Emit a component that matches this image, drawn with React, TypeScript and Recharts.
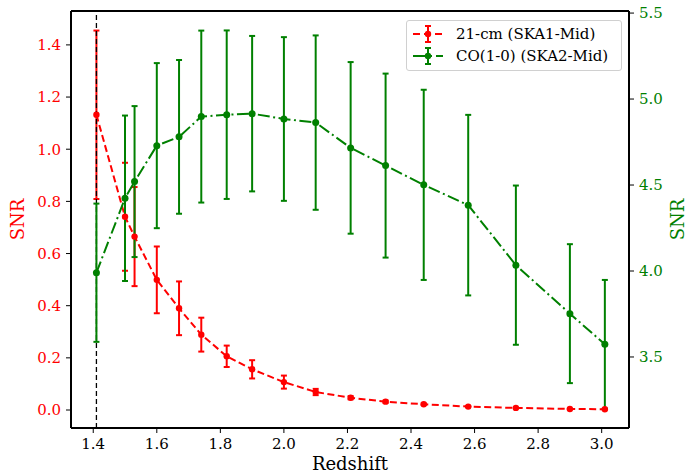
import {
  ComposedChart,
  Line,
  XAxis,
  YAxis,
  ErrorBar,
  ReferenceLine,
} from "recharts"

// ─── Data ────────────────────────────────────────────────────────────────────
const redshift = [1.41, 1.5, 1.53, 1.6, 1.67, 1.74, 1.82, 1.9, 2.0, 2.1, 2.21, 2.32, 2.44, 2.58, 2.73, 2.9, 3.01]
const hiSnr = [1.132, 0.741, 0.665, 0.499, 0.39, 0.289, 0.206, 0.156, 0.107, 0.069, 0.047, 0.032, 0.022, 0.013, 0.008, 0.004, 0.003]
const hiErr = [0.323, 0.207, 0.19, 0.128, 0.103, 0.065, 0.041, 0.035, 0.025, 0.012, 0.006, 0.004, 0.003, 0.002, 0.001, 0.001, 0.001]
const coSnr = [3.99, 4.423, 4.52, 4.729, 4.78, 4.898, 4.909, 4.915, 4.884, 4.863, 4.716, 4.613, 4.501, 4.383, 4.034, 3.752, 3.574]
const coErr = [0.402, 0.481, 0.439, 0.48, 0.447, 0.5, 0.49, 0.452, 0.476, 0.507, 0.499, 0.535, 0.553, 0.525, 0.463, 0.404, 0.374]

const xTicks = [1.4, 1.6, 1.8, 2.0, 2.2, 2.4, 2.6, 2.8, 3.0]
const leftTicks = [0, 0.2, 0.4, 0.6, 0.8, 1.0, 1.2, 1.4]
const rightTicks = [3.5, 4.0, 4.5, 5.0, 5.5]
const markerZ = 1.41

const data = redshift.map((z, i) => ({
  z,
  hi: hiSnr[i],
  hiErr: hiErr[i],
  co: coSnr[i],
  coErr: coErr[i],
}))

const X_DOMAIN = [1.33, 3.086]
const LEFT_DOMAIN = [-0.069, 1.53]
const RIGHT_DOMAIN = [3.087, 5.512]

const FONT = "DejaVu Serif"
const RED = "#ff0000"
const GREEN = "#008000"

// ─── Legend ──────────────────────────────────────────────────────────────────
function Handle({ color, dash }: { color: string; dash: string }) {
  return (
    <svg width={32} height={18} style={{ display: "block" }}>
      <line x1={1} y1={9} x2={31} y2={9} stroke={color} strokeWidth={2} strokeDasharray={dash} />
      <line x1={16} y1={1} x2={16} y2={17} stroke={color} strokeWidth={2} />
      <line x1={13} y1={1} x2={19} y2={1} stroke={color} strokeWidth={2} />
      <line x1={13} y1={17} x2={19} y2={17} stroke={color} strokeWidth={2} />
      <circle cx={16} cy={9} r={3.2} fill={color} />
    </svg>
  )
}

function ChartLegend() {
  const row = { display: "flex", alignItems: "center", gap: 12, height: 22 }
  return (
    <div
      style={{
        position: "absolute",
        left: 406,
        top: 20,
        boxSizing: "border-box",
        width: 216,
        height: 51,
        border: "1px solid #d0d0d0",
        borderRadius: 3,
        background: "rgba(255,255,255,0.9)",
        padding: "2px 5px",
        fontFamily: FONT,
        fontSize: 15,
        color: "#000",
        whiteSpace: "nowrap",
      }}
    >
      <div style={row}>
        <Handle color={RED} dash="7 4" />
        <span>21-cm (SKA1-Mid)</span>
      </div>
      <div style={row}>
        <Handle color={GREEN} dash="12 4 3 4" />
        <span>CO(1-0) (SKA2-Mid)</span>
      </div>
    </div>
  )
}

// ─── Main ────────────────────────────────────────────────────────────────────
export default function App() {
  return (
    <div style={{ position: "absolute", left: 0, top: 0, width: 687, height: 475, background: "#fff" }}>
      <ComposedChart
        width={687}
        height={475}
        data={data}
        margin={{ top: 11, right: 0, left: 0, bottom: 0 }}
        style={{ fontFamily: FONT }}
      >
        <XAxis
          dataKey="z"
          type="number"
          domain={X_DOMAIN}
          ticks={xTicks}
          allowDataOverflow
          tickFormatter={(v: number) => v.toFixed(1)}
          height={47}
          axisLine={{ stroke: "#000", strokeWidth: 2 }}
          tickLine={{ stroke: "#000" }}
          tickSize={5}
          tickMargin={5}
          tick={{ fill: "#000", fontSize: 15, fontFamily: FONT }}
          label={{ value: "Redshift", position: "insideBottom", offset: 5, fill: "#000", fontSize: 18, fontFamily: FONT }}
        />
        <YAxis
          yAxisId="left"
          domain={LEFT_DOMAIN}
          ticks={leftTicks}
          allowDataOverflow
          tickFormatter={(v: number) => v.toFixed(1)}
          width={71}
          axisLine={{ stroke: "#000", strokeWidth: 2 }}
          tickLine={{ stroke: "#000" }}
          tickSize={5}
          tickMargin={5}
          tick={{ fill: RED, fontSize: 15, fontFamily: FONT }}
          label={{
            value: "SNR",
            angle: -90,
            position: "insideLeft",
            offset: 18,
            fill: RED,
            fontSize: 18,
            fontFamily: FONT,
            style: { textAnchor: "middle" },
          }}
        />
        <YAxis
          yAxisId="right"
          orientation="right"
          domain={RIGHT_DOMAIN}
          ticks={rightTicks}
          allowDataOverflow
          tickFormatter={(v: number) => v.toFixed(1)}
          width={58}
          axisLine={{ stroke: "#000", strokeWidth: 2 }}
          tickLine={{ stroke: "#000" }}
          tickSize={5}
          tickMargin={5}
          tick={{ fill: GREEN, fontSize: 15, fontFamily: FONT }}
          label={{
            value: "SNR",
            angle: -90,
            position: "insideRight",
            offset: 9,
            fill: GREEN,
            fontSize: 18,
            fontFamily: FONT,
            style: { textAnchor: "middle" },
          }}
        />

        {/* top spine */}
        <ReferenceLine yAxisId="left" y={LEFT_DOMAIN[1]} stroke="#000" strokeWidth={2} ifOverflow="visible" />

        <Line
          yAxisId="left"
          type="linear"
          dataKey="hi"
          stroke={RED}
          strokeWidth={2}
          strokeDasharray="7 3.5"
          dot={{ r: 3.2, fill: RED, stroke: RED, strokeWidth: 0 }}
          isAnimationActive={false}
        >
          <ErrorBar dataKey="hiErr" direction="y" width={3} stroke={RED} strokeWidth={2} />
        </Line>

        <ReferenceLine yAxisId="left" x={markerZ} stroke="#000" strokeWidth={1.3} strokeDasharray="5 3" />

        <Line
          yAxisId="right"
          type="linear"
          dataKey="co"
          stroke={GREEN}
          strokeWidth={2}
          strokeDasharray="12 3.5 2 3.5"
          dot={{ r: 3.5, fill: GREEN, stroke: GREEN, strokeWidth: 0 }}
          isAnimationActive={false}
        >
          <ErrorBar dataKey="coErr" direction="y" width={3} stroke={GREEN} strokeWidth={2} />
        </Line>
      </ComposedChart>
      <ChartLegend />
    </div>
  )
}
